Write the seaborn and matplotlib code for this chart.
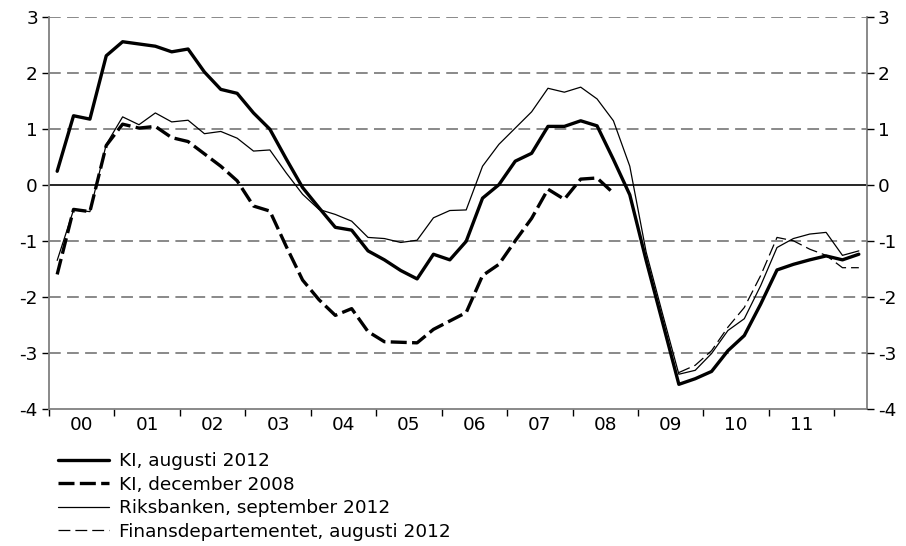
import numpy as np
import pandas as pd
import matplotlib
matplotlib.use("Agg")
import matplotlib.pyplot as plt
import seaborn as sns

# kvartal 2000K1 - 2012K2
years = ['00', '01', '02', '03', '04', '05', '06', '07', '08', '09', '10', '11']
n_q = 50
nan = np.nan

ki_aug = [0.24, 1.23, 1.17, 2.30, 2.55, 2.51, 2.47, 2.37, 2.42, 2.01,
          1.70, 1.63, 1.28, 0.99, 0.46, -0.05, -0.41, -0.76, -0.81, -1.18,
          -1.34, -1.53, -1.68, -1.24, -1.34, -1.01, -0.24, 0.00, 0.42, 0.56,
          1.04, 1.04, 1.14, 1.05, 0.45, -0.18, -1.35, -2.45, -3.56, -3.46,
          -3.33, -2.96, -2.69, -2.13, -1.52, -1.42, -1.34, -1.27, -1.34, -1.24]

ki_dec = [-1.60, -0.44, -0.48, 0.70, 1.08, 1.01, 1.04, 0.84, 0.77, 0.55,
          0.33, 0.07, -0.38, -0.47, -1.10, -1.70, -2.05, -2.33, -2.21, -2.62,
          -2.80, -2.81, -2.82, -2.58, -2.43, -2.28, -1.62, -1.42, -1.00, -0.60,
          -0.08, -0.26, 0.10, 0.12, -0.15] + [nan] * 15

riks = [-1.35, -0.45, -0.48, 0.72, 1.21, 1.07, 1.28, 1.12, 1.15, 0.91,
        0.95, 0.83, 0.60, 0.62, 0.21, -0.17, -0.44, -0.53, -0.65, -0.94,
        -0.96, -1.03, -0.99, -0.59, -0.46, -0.45, 0.33, 0.72, 1.01, 1.30,
        1.72, 1.65, 1.74, 1.53, 1.14, 0.33, -1.20, -2.30, -3.38, -3.31,
        -3.01, -2.60, -2.39, -1.80, -1.12, -0.96, -0.88, -0.85, -1.26, -1.18]

fin = [nan] * 38 + [-3.35, -3.22, -2.96, -2.54, -2.19, -1.62, -0.94, -1.00,
                    -1.15, -1.26, -1.48, -1.48]

labels = ['KI, augusti 2012', 'KI, december 2008',
          'Riksbanken, september 2012', 'Finansdepartementet, augusti 2012']

sns.set_style("white")
plt.rcParams['font.family'] = ['DejaVu Sans']
plt.rcParams['axes.unicode_minus'] = False
plt.rcParams['text.color'] = 'black'
plt.rcParams['xtick.color'] = 'black'
plt.rcParams['ytick.color'] = 'black'
fs = 13.3

fig = plt.figure(figsize=(9.06, 5.46), dpi=100)
ax = fig.add_axes([49 / 906, 1 - 409 / 546, (867 - 49) / 906, (409 - 16.5) / 546])

quarters = np.arange(n_q)
grey = '#808080'

# rutnät
for v in [-3, -2, -1, 1, 2, 3]:
    ax.axhline(v, color=grey, linewidth=1.3, dashes=(6.5, 3.5), zorder=1)
ax.axhline(0, color='black', linewidth=1.2, zorder=1)

styles = [
    (ki_aug, 2.4, None),
    (ki_dec, 2.4, (4.8, 1.6)),
    (riks, 0.9, None),
    (fin, 0.9, (9.5, 4)),
]
handles = []
for (vals, lw, dash), lab in zip(styles, labels):
    d = pd.DataFrame({'q': quarters, 'v': vals}).dropna()
    sns.lineplot(data=d, x='q', y='v', ax=ax, color='black', linewidth=lw,
                 zorder=3, legend=False)
    line = ax.lines[-1]
    if dash is not None:
        line.set_dashes(dash)
    handles.append(line)

if ax.get_legend() is not None:
    ax.get_legend().remove()

ax.set_xlim(-0.5, n_q - 0.5)
ax.set_ylim(-4, 3)
ax.set_xlabel('')
ax.set_ylabel('')

ax.set_xticks(np.arange(-0.5, 48, 4))
ax.set_xticklabels([])
ax.set_xticks(np.arange(1.5, 48, 4), minor=True)
ax.set_xticklabels(years, minor=True)
ax.tick_params(axis='x', which='major', direction='out', length=5, width=1,
               color='black', bottom=True)
ax.tick_params(axis='x', which='minor', length=0, pad=5, labelsize=fs)

ax.set_yticks(range(-4, 4))
ax.tick_params(axis='y', direction='out', length=5, width=1, color='black',
               left=True, labelsize=fs, pad=3)

for s in ['left', 'right', 'bottom']:
    ax.spines[s].set_color(grey)
    ax.spines[s].set_linewidth(1.3)
ax.spines['top'].set_visible(False)

ax2 = ax.twinx()
ax2.set_ylim(-4, 3)
ax2.set_yticks(range(-4, 4))
ax2.tick_params(axis='y', direction='out', length=5, width=1, color='black',
                right=True, labelsize=fs, pad=3)
for s in ax2.spines.values():
    s.set_visible(False)
ax2.grid(False)

fig.legend(handles=handles, labels=labels, loc='upper left',
           bbox_to_anchor=(58 / 906, 1 - 452 / 546), frameon=False,
           borderpad=0, borderaxespad=0, handlelength=2.75, handletextpad=0.55,
           labelspacing=0.3, fontsize=fs)

fig.savefig('out.png', dpi=100)
